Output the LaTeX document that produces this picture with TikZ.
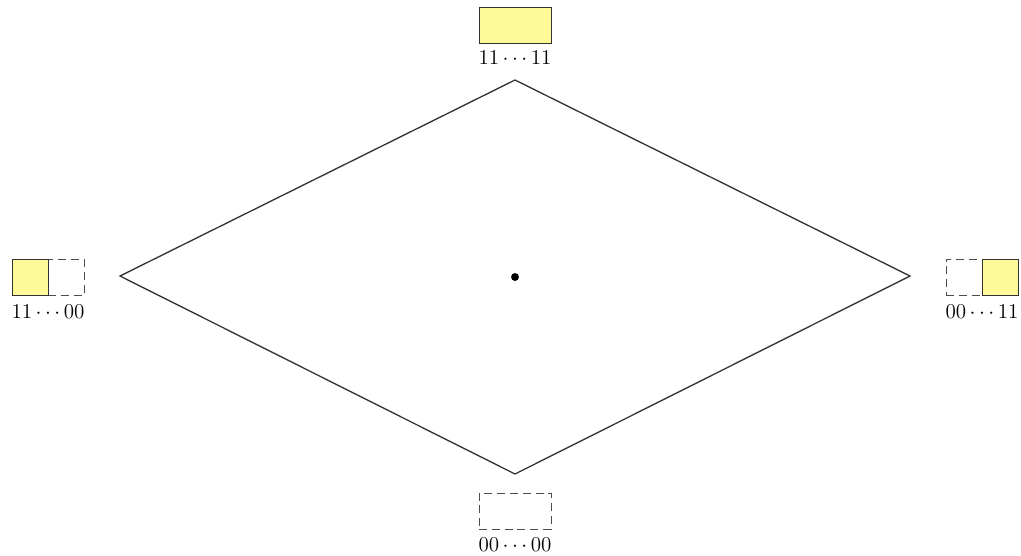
\documentclass[tikz,border=0pt]{standalone}
\begin{document}
\begin{tikzpicture}[x=0.02cm,y=-0.02cm,
  line/.style={draw=black!80,line width=0.5pt},
  ybox/.style={line,fill=yellow!40,inner sep=0pt,minimum height=0.72cm},
  dbox/.style={draw=black!70,line width=0.5pt,dash pattern=on 4.5pt off 2.8pt,inner sep=0pt,minimum height=0.72cm},
  lab/.style={inner sep=0pt,font=\fontsize{12}{14}\selectfont}]
\useasboundingbox (0,0) rectangle (1021,555);
\coordinate (T) at (515,80);
\coordinate (R) at (910,276);
\coordinate (B) at (515,474);
\coordinate (L) at (120,276);
\draw[draw=black!80,line width=0.75pt] (T) -- (R) -- (B) -- (L) -- cycle;
\node[circle,fill=black,inner sep=0pt,minimum size=4.5pt] (c) at (515,277) {};
% top
\node[ybox,minimum width=1.44cm] (tb) at (515,25) {};
\node[lab] (tl) at (515,58) {$11\cdots11$};
% left
\node[dbox,minimum width=0.72cm] (ld) at (66,277) {};
\node[ybox,minimum width=0.72cm] (ly) at (30,277) {};
\node[lab] (ll) at (48,312) {$11\cdots00$};
% right
\node[dbox,minimum width=0.72cm] (rd) at (964,277) {};
\node[ybox,minimum width=0.72cm] (ry) at (1000,277) {};
\node[lab] (rl) at (982,312) {$00\cdots11$};
% bottom
\node[dbox,minimum width=1.44cm] (bb) at (515,511) {};
\node[lab] (bl) at (515,545) {$00\cdots00$};
\end{tikzpicture}
\end{document}
